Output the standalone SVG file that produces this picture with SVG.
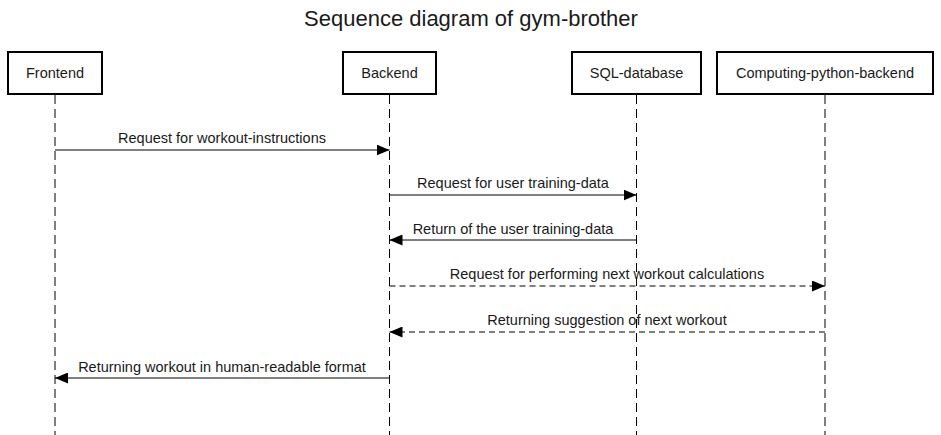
<svg xmlns="http://www.w3.org/2000/svg" width="941" height="435" viewBox="0 0 941 435">
<style>
text{font-family:"Liberation Sans",Arial,sans-serif;fill:#1a1a1a}
.lbl{font-size:14.5px;text-anchor:middle}
.box{fill:#fff;stroke:#000;stroke-width:2}
.life{stroke:#000;stroke-width:1;stroke-dasharray:9 5;fill:none}
.msg{stroke:#000;stroke-width:1;fill:none}
.dash{stroke-dasharray:6 4}
</style>
<defs>
<marker id="ah" viewBox="0 0 13 11" refX="13" refY="5.5" markerWidth="13" markerHeight="11" markerUnits="userSpaceOnUse" orient="auto">
<path d="M0,0 L13,5.5 L0,11 Z" fill="#000"/>
</marker>
</defs>
<rect width="941" height="435" fill="#fff"/>
<text x="471" y="26" font-size="22" text-anchor="middle">Sequence diagram of gym-brother</text>
<g id="lifelines">
<line class="life" x1="55" y1="95" x2="55" y2="435"/>
<line class="life" x1="389.5" y1="95" x2="389.5" y2="435"/>
<line class="life" x1="636.5" y1="95" x2="636.5" y2="435"/>
<line class="life" x1="825" y1="95" x2="825" y2="435"/>
</g>
<g id="frontend"><rect class="box" x="8" y="52" width="94" height="42"/><text class="lbl" x="55" y="78">Frontend</text></g>
<g id="backend"><rect class="box" x="343" y="52" width="93" height="42"/><text class="lbl" x="389.5" y="78">Backend</text></g>
<g id="sql"><rect class="box" x="572" y="52" width="129" height="42"/><text class="lbl" x="636.5" y="78">SQL-database</text></g>
<g id="compute"><rect class="box" x="717" y="52" width="216" height="42"/><text class="lbl" x="825" y="78">Computing-python-backend</text></g>
<g id="connectors">
<line class="msg" x1="55" y1="150" x2="389.5" y2="150" marker-end="url(#ah)"/>
<text class="lbl" x="222" y="143">Request for workout-instructions</text>
<line class="msg" x1="389.5" y1="195" x2="636.5" y2="195" marker-end="url(#ah)"/>
<text class="lbl" x="513" y="188">Request for user training-data</text>
<line class="msg" x1="636.5" y1="240" x2="389.5" y2="240" marker-end="url(#ah)"/>
<text class="lbl" x="513" y="234">Return of the user training-data</text>
<line class="msg dash" x1="389.5" y1="286" x2="825" y2="286" marker-end="url(#ah)"/>
<text class="lbl" x="607" y="279">Request for performing next workout calculations</text>
<line class="msg dash" x1="825" y1="332" x2="389.5" y2="332" marker-end="url(#ah)"/>
<text class="lbl" x="607" y="325">Returning suggestion of next workout</text>
<line class="msg" x1="389.5" y1="378" x2="55" y2="378" marker-end="url(#ah)"/>
<text class="lbl" x="222" y="372">Returning workout in human-readable format</text>
</g>
</svg>
